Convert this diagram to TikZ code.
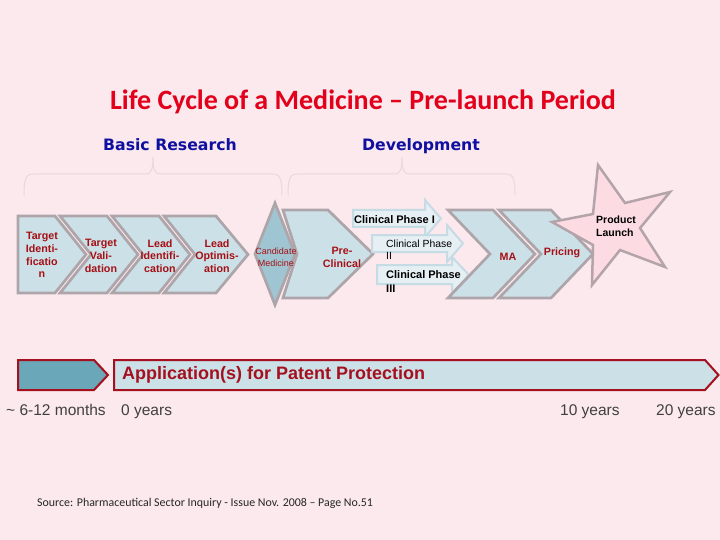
\documentclass[tikz,border=0pt]{standalone}
\usepackage{fontspec}
\setmainfont{Liberation Sans}
\newfontfamily\calib{Carlito}
\newfontfamily\dejav{DejaVu Sans}
\definecolor{bgpink}{HTML}{FBE9EE}
\definecolor{chevfill}{HTML}{CCE0E7}
\definecolor{chevgray}{HTML}{ADA5A9}
\definecolor{diafill}{HTML}{9FC5D2}
\definecolor{arrfill}{HTML}{E6EFF3}
\definecolor{arrdraw}{HTML}{C6DCE5}
\definecolor{starfill}{HTML}{FCDCE2}
\definecolor{stardraw}{HTML}{B3A4AA}
\definecolor{tealbox}{HTML}{6AA7B9}
\definecolor{barfill}{HTML}{CCE0E8}
\definecolor{bardraw}{HTML}{A4101E}
\definecolor{titlered}{HTML}{E2001A}
\definecolor{headblue}{HTML}{1010A0}
\definecolor{txtred}{HTML}{A50F15}
\definecolor{labelgray}{HTML}{404040}
\definecolor{bracecol}{HTML}{EBD6DC}
\begin{document}
\begin{tikzpicture}[x=1pt,y=-1pt,
  chev/.style={fill=chevfill,draw=chevgray,line width=2.7pt,line join=miter},
  blockarrow/.style={fill=arrfill,draw=arrdraw,line width=2pt,line join=miter},
  bracestyle/.style={draw=bracecol,line width=1pt},
  ctext/.style={text=txtred,font=\bfseries\fontsize{10.7}{12.7}\selectfont,align=center,inner sep=0pt},
  phtext/.style={text=black,inner sep=0pt,align=left},
  yearlbl/.style={text=labelgray,font=\fontsize{15.5}{18}\selectfont,inner sep=0pt,anchor=base west},
  heading/.style={text=headblue,font=\dejav\bfseries\fontsize{15.7}{18}\selectfont,inner sep=0pt,anchor=base}]
% background
\fill[bgpink] (0,0) rectangle (720,540);
\useasboundingbox (0,0) rectangle (720,540);

% title
\node[text=titlered,font=\calib\bfseries\fontsize{28}{32}\selectfont,inner sep=0pt,anchor=base] (title) at (363,109.5) {Life Cycle of a Medicine – Pre-launch Period};

% headings
\node[heading] (basic) at (170,151) {Basic Research};
\node[heading] (devel) at (421,151) {Development};

% braces
\draw[bracestyle] (24,195) .. controls (24,178) and (26,174) .. (34,174) -- (146,174)
  .. controls (151,174) and (153,170) .. (153,157) .. controls (153,170) and (155,174) .. (160,174)
  -- (272,174) .. controls (280,174) and (282,178) .. (282,195);
\draw[bracestyle] (288,195) .. controls (288,178) and (290,174) .. (298,174) -- (395,174)
  .. controls (400,174) and (402,170) .. (402,157) .. controls (402,170) and (404,174) .. (409,174)
  -- (505,174) .. controls (513,174) and (515,178) .. (515,195);

% basic research chevrons
\draw[chev] (18,216) -- (55,216) -- (86,254.5) -- (55,293) -- (18,293) -- cycle;
\draw[chev] (60,216) -- (107,216) -- (138,254.5) -- (107,293) -- (60,293) -- (91,254.5) -- cycle;
\draw[chev] (112,216) -- (159,216) -- (190,254.5) -- (159,293) -- (112,293) -- (143,254.5) -- cycle;
\draw[chev] (164,216) -- (216,216) -- (248,254.5) -- (216,293) -- (164,293) -- (195,254.5) -- cycle;

% pre-clinical chevron and candidate diamond
\draw[chev] (283,210) -- (328,210) -- (373,254) -- (328,298) -- (283,298) -- (297,254) -- cycle;
\draw[chev,fill=diafill] (275,203) -- (295,254) -- (275,305) -- (255,254) -- cycle;

% clinical phase arrows
\draw[blockarrow] (353,210) -- (425,210) -- (425,200) -- (441,218.5) -- (425,237) -- (425,227) -- (353,227) -- cycle;
\draw[blockarrow] (372,235) -- (447,235) -- (447,225) -- (463,243.5) -- (447,262) -- (447,252) -- (372,252) -- cycle;
\draw[blockarrow] (377,265) -- (452,265) -- (452,257) -- (469,275) -- (452,293) -- (452,284) -- (377,284) -- cycle;

% MA and pricing chevrons
\draw[chev] (448,210) -- (493,210) -- (535,254) -- (493,298) -- (448,298) -- (490,254) -- cycle;
\draw[chev] (499,210) -- (551,210) -- (593,254) -- (551,298) -- (499,298) -- (541,254) -- cycle;

% star
\draw[fill=starfill,draw=stardraw,line width=2.5pt,line join=miter]
  (598,165) -- (625,203) -- (670,192) -- (640,228) -- (665,267) -- (620,250)
  -- (592,285) -- (593,245) -- (552,222) -- (593,214) -- cycle;

% chevron texts
\node[ctext] (tid) at (42,255) {Target\\Identi-\\ficatio\\n};
\node[ctext] (tval) at (101,256) {Target\\Vali-\\dation};
\node[ctext] (lid) at (160,256) {Lead\\Identifi-\\cation};
\node[ctext] (lopt) at (217,256) {Lead\\Optimis-\\ation};
\node[text=txtred,font=\fontsize{9}{12}\selectfont,align=center,inner sep=0pt] (cand) at (276,257) {Candidate\\Medicine};
\node[ctext] (precl) at (342,257.5) {Pre-\\Clinical};
\node[ctext,anchor=base] (ma) at (508,260) {MA};
\node[ctext,anchor=base] (pricing) at (562,255) {Pricing};

% clinical phase texts
\node[phtext,font=\bfseries\fontsize{11}{13}\selectfont,anchor=base west] (ph1) at (354,223) {Clinical Phase I};
\node[phtext,font=\fontsize{10.4}{12.5}\selectfont,anchor=north west] (ph2) at (386,239.3) {Clinical Phase\\II};
\node[phtext,font=\bfseries\fontsize{11}{14}\selectfont,anchor=north west] (ph3) at (386,270) {Clinical Phase\\III};

% product launch
\node[phtext,font=\bfseries\fontsize{10.5}{12.5}\selectfont,anchor=north west] (launch) at (596,216) {Product\\Launch};

% patent bar
\draw[fill=tealbox,draw=bardraw,line width=2pt,line join=miter] (18,360) -- (94,360) -- (108,375) -- (94,390) -- (18,390) -- cycle;
\draw[fill=barfill,draw=bardraw,line width=2pt,line join=miter] (114,360) -- (705,360) -- (718.5,375) -- (705,390) -- (114,390) -- cycle;
\node[text=bardraw,font=\bfseries\fontsize{18}{21}\selectfont,inner sep=0pt,anchor=base west] (patent) at (122,379.5) {Application(s) for Patent Protection};

% year labels
\node[yearlbl] (m612) at (6,415) {\char"007E\ 6-12 months};
\node[yearlbl] (y0) at (121,415) {0 years};
\node[yearlbl] (y10) at (560,415) {10 years};
\node[yearlbl] (y20) at (656,415) {20 years};

% source
\node[text=black!85,font=\calib\fontsize{11.9}{14}\selectfont,inner sep=0pt,anchor=base west] (source) at (37,506.5) {Source: Pharmaceutical Sector Inquiry - Issue Nov. 2008 – Page No.51};
\end{tikzpicture}
\end{document}
